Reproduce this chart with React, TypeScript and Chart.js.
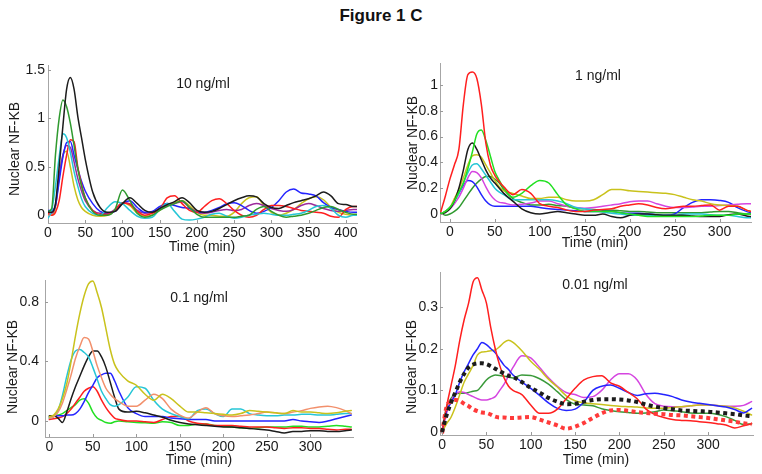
import React, { useEffect, useRef } from 'react';
import { Chart, registerables } from 'chart.js';
Chart.register(...registerables);

const FONT = "Arial, 'Liberation Sans', Helvetica, sans-serif";

// ---------- Panel 1 : 10 ng/ml ----------
const T1 = [0,5,10,15,20,25,30,35,40,45,50,60,70,80,90,100,110,120,130,140,150,160,170,180,190,200,210,220,230,240,250,260,270,280,290,300,310,320,330,340,350,360,370,380,390,400,410,415];
const P1_black = [0.03,0.03,0.12,0.5,0.92,1.3,1.42,1.3,1.02,0.8,0.58,0.24,0.08,0.03,0.04,0.12,0.18,0.12,0.05,0.03,0.07,0.11,0.14,0.18,0.13,0.05,0.03,0.04,0.07,0.11,0.15,0.18,0.2,0.19,0.12,0.08,0.07,0.1,0.13,0.15,0.17,0.2,0.24,0.2,0.12,0.11,0.09,0.09];
const P1_green = [0.04,0.07,0.62,1.0,1.19,1.12,0.95,0.72,0.48,0.3,0.18,0.04,0.0,0.0,0.06,0.26,0.15,0.02,-0.02,0.0,0.05,0.09,0.12,0.15,0.08,0.01,-0.02,-0.02,-0.02,-0.02,-0.02,-0.01,0.0,0.06,0.09,0.04,0.0,-0.02,-0.01,0.0,0.02,0.05,0.08,0.09,0.06,0.03,0.01,0.01];
const P1_cyan = [-0.03,0.05,0.3,0.6,0.84,0.8,0.65,0.45,0.3,0.17,0.09,0.02,0.0,0.08,0.14,0.12,0.05,-0.01,-0.03,-0.02,0.06,0.12,0.04,-0.04,-0.05,-0.04,-0.02,0.01,0.02,-0.01,-0.03,-0.02,0.0,0.01,0.02,0.01,0.0,0.0,0.01,0.02,0.05,0.09,0.1,0.07,0.0,-0.02,0.0,0.0];
const P1_red = [0.02,0.0,0.03,0.15,0.4,0.62,0.78,0.76,0.5,0.32,0.18,0.05,0.01,0.01,0.05,0.13,0.11,0.04,0.0,0.02,0.06,0.18,0.2,0.12,0.05,0.03,0.09,0.15,0.17,0.12,0.05,0.0,-0.02,0.0,0.06,0.1,0.1,0.09,0.07,0.05,0.04,0.03,0.02,-0.01,-0.02,0.06,0.09,0.09];
const P1_blue = [0.05,0.05,0.1,0.35,0.6,0.75,0.76,0.62,0.48,0.35,0.25,0.12,0.04,0.02,0.04,0.12,0.15,0.08,0.03,0.04,0.09,0.12,0.1,0.08,0.07,0.03,0.03,0.05,0.08,0.12,0.13,0.1,0.05,0.02,0.04,0.08,0.15,0.24,0.27,0.23,0.22,0.2,0.13,0.08,0.06,0.04,0.03,0.03];
const P1_purple = [0.03,0.02,0.1,0.4,0.62,0.72,0.7,0.55,0.38,0.25,0.15,0.05,0.02,0.02,0.06,0.13,0.12,0.05,0.02,0.03,0.07,0.1,0.12,0.14,0.08,0.03,0.02,0.03,0.05,0.06,0.05,0.06,0.1,0.12,0.1,0.07,0.05,0.04,0.06,0.1,0.12,0.1,0.07,0.05,0.04,0.05,0.06,0.06];
const P1_yellow = [0.02,0.0,0.08,0.4,0.62,0.66,0.5,0.3,0.16,0.08,0.04,0.0,-0.01,0.0,0.05,0.13,0.1,0.02,-0.01,0.0,0.05,0.1,0.13,0.15,0.1,0.03,0.0,0.0,-0.01,-0.01,0.03,0.12,0.18,0.19,0.1,0.03,0.0,0.02,0.06,0.12,0.17,0.19,0.16,0.08,0.03,0.01,0.0,0.0];
const X1_TICKS = [0,50,100,150,200,250,300,350,400];
const Y1_TICKS = [0,0.5,1,1.5];

// ---------- Panel 2 : 1 ng/ml ----------
const T2 = [-10,-5,0,5,10,15,20,25,30,35,40,45,50,55,60,70,80,90,100,110,120,130,140,150,160,170,180,190,200,210,220,230,240,250,260,270,280,290,300,310,320,330,335];
const P2_red = [0.02,0.14,0.27,0.38,0.5,0.85,1.08,1.1,1.05,0.85,0.55,0.38,0.3,0.25,0.21,0.15,0.19,0.16,0.08,0.06,0.05,0.03,0.02,0.02,0.03,0.035,0.04,0.06,0.07,0.08,0.07,0.05,0.04,0.05,0.06,0.06,0.065,0.07,0.03,0.06,0.06,0.03,0.02];
const P2_green = [0.0,0.02,0.05,0.1,0.17,0.24,0.35,0.48,0.62,0.65,0.57,0.45,0.33,0.26,0.2,0.13,0.16,0.22,0.26,0.24,0.15,0.07,0.04,0.02,0.02,0.02,0.02,0.01,0.0,-0.01,-0.02,-0.02,-0.02,-0.02,-0.02,-0.02,-0.015,-0.01,-0.01,-0.01,0.0,0.0,0.0];
const P2_black = [0.0,0.01,0.04,0.1,0.2,0.34,0.5,0.55,0.5,0.42,0.34,0.28,0.24,0.2,0.16,0.1,0.04,0.01,0.0,0.01,0.02,0.01,0.0,-0.01,-0.01,0.0,-0.02,-0.03,-0.01,0.0,0.0,-0.005,-0.01,-0.01,-0.01,-0.015,-0.02,-0.02,-0.02,-0.005,0.0,-0.015,-0.02];
const P2_yellow = [0.0,0.02,0.05,0.12,0.19,0.28,0.38,0.45,0.46,0.44,0.38,0.32,0.26,0.21,0.18,0.16,0.14,0.12,0.12,0.13,0.13,0.11,0.1,0.1,0.11,0.15,0.19,0.19,0.18,0.175,0.17,0.165,0.16,0.15,0.13,0.11,0.1,0.08,0.07,0.065,0.06,0.03,0.02];
const P2_cyan = [0.0,0.02,0.05,0.1,0.16,0.24,0.32,0.38,0.39,0.35,0.3,0.25,0.2,0.17,0.15,0.11,0.11,0.11,0.11,0.11,0.1,0.08,0.05,0.04,0.03,0.015,0.005,0.0,-0.01,-0.01,-0.01,-0.01,-0.01,-0.01,0.0,0.0,0.0,-0.005,-0.01,-0.01,-0.02,-0.03,-0.03];
const P2_magenta = [0.0,0.02,0.04,0.08,0.13,0.2,0.28,0.33,0.32,0.28,0.21,0.15,0.11,0.09,0.085,0.07,0.075,0.085,0.1,0.1,0.08,0.06,0.05,0.045,0.05,0.06,0.07,0.08,0.095,0.1,0.1,0.08,0.06,0.05,0.05,0.055,0.06,0.06,0.065,0.07,0.075,0.08,0.08];
const P2_blue = [0.0,0.02,0.05,0.1,0.16,0.22,0.26,0.25,0.21,0.15,0.1,0.07,0.06,0.06,0.06,0.06,0.06,0.06,0.05,0.04,0.035,0.03,0.025,0.02,0.02,0.02,0.02,0.01,0.005,0.005,0.0,-0.005,-0.01,0.0,0.05,0.09,0.11,0.11,0.105,0.09,0.05,0.02,0.01];
const P2_dkgreen = [0.01,-0.01,0.0,0.02,0.05,0.1,0.15,0.2,0.24,0.27,0.29,0.29,0.27,0.24,0.19,0.12,0.09,0.07,0.07,0.075,0.065,0.06,0.045,0.04,0.035,0.03,0.03,0.025,0.02,0.02,0.015,0.01,0.01,0.01,0.01,0.01,0.01,0.015,0.02,0.02,0.01,0.0,0.0];
const X2_TICKS = [0,50,100,150,200,250,300];
const Y2_TICKS = [0,0.2,0.4,0.6,0.8,1];

// ---------- Panel 3 : 0.1 ng/ml ----------
const T3 = [0,5,10,15,20,25,30,35,40,45,50,55,60,65,70,75,80,90,100,110,120,130,140,150,160,170,180,190,200,210,220,230,240,250,260,270,280,290,300,310,320,330,340,347];
const P3_yellow = [0.03,0.04,0.08,0.15,0.25,0.4,0.57,0.72,0.84,0.92,0.94,0.86,0.76,0.62,0.48,0.38,0.33,0.27,0.24,0.18,0.14,0.18,0.15,0.1,0.06,0.06,0.055,0.05,0.045,0.04,0.05,0.07,0.065,0.06,0.055,0.05,0.07,0.06,0.06,0.055,0.05,0.055,0.065,0.07];
const P3_salmon = [0.02,0.03,0.06,0.12,0.21,0.31,0.42,0.5,0.56,0.55,0.47,0.37,0.29,0.22,0.18,0.15,0.13,0.1,0.1,0.14,0.18,0.15,0.08,0.04,0.02,0.06,0.09,0.05,0.035,0.03,0.035,0.04,0.05,0.06,0.055,0.05,0.06,0.07,0.085,0.095,0.1,0.09,0.07,0.05];
const P3_cyan = [0.02,0.03,0.07,0.17,0.3,0.41,0.47,0.48,0.46,0.43,0.36,0.28,0.2,0.15,0.11,0.1,0.11,0.16,0.23,0.22,0.14,0.08,0.05,0.03,0.015,0.07,0.08,0.05,0.03,0.08,0.08,0.05,0.04,0.035,0.035,0.04,0.04,0.045,0.045,0.04,0.04,0.045,0.05,0.05];
const P3_black = [0.035,0.035,0.02,-0.01,0.06,0.15,0.23,0.3,0.37,0.43,0.47,0.47,0.43,0.36,0.26,0.16,0.08,0.06,0.065,0.055,0.04,0.025,0.005,-0.01,-0.02,-0.025,-0.03,-0.035,-0.04,-0.04,-0.045,-0.05,-0.055,-0.06,-0.07,-0.08,-0.07,-0.07,-0.065,-0.065,-0.07,-0.07,-0.065,-0.06];
const P3_blue = [0.03,0.035,0.035,0.035,0.04,0.04,0.05,0.08,0.13,0.19,0.24,0.29,0.31,0.32,0.32,0.27,0.2,0.09,0.05,0.03,0.03,0.03,0.02,0.015,0.01,0.01,0.01,0.0,0.0,0.0,0.0,0.0,0.0,0.0,0.0,0.0,0.01,0.0,-0.005,-0.01,0.0,0.015,0.03,0.04];
const P3_red = [0.01,0.015,0.02,0.03,0.05,0.08,0.12,0.16,0.2,0.22,0.23,0.2,0.14,0.09,0.05,0.02,0.01,0.0,0.0,-0.005,-0.01,0.01,0.03,0.03,0.0,-0.015,-0.02,-0.03,-0.03,-0.03,-0.035,-0.04,-0.04,-0.04,-0.045,-0.05,-0.045,-0.045,-0.05,-0.05,-0.055,-0.06,-0.055,-0.055];
const P3_green = [0.02,0.03,0.04,0.05,0.07,0.09,0.11,0.14,0.15,0.12,0.06,0.02,0.005,-0.01,-0.015,-0.005,0.0,-0.005,-0.01,-0.012,-0.015,-0.005,-0.01,-0.03,-0.03,-0.02,-0.02,-0.03,-0.035,-0.04,-0.045,-0.05,-0.045,-0.04,-0.04,-0.04,-0.035,-0.035,-0.04,-0.04,-0.035,-0.03,-0.035,-0.04];
const X3_TICKS = [0,50,100,150,200,250,300];
const Y3_TICKS = [0,0.4,0.8];

// ---------- Panel 4 : 0.01 ng/ml ----------
const T4 = [0,5,10,15,20,25,30,35,40,45,50,55,60,65,70,75,80,90,100,110,120,130,140,150,160,170,180,190,200,210,220,230,240,250,260,270,280,290,300,310,320,330,340,349];
const P4_red = [0.0,0.06,0.11,0.16,0.22,0.27,0.31,0.36,0.37,0.34,0.31,0.25,0.2,0.16,0.13,0.11,0.1,0.09,0.065,0.045,0.045,0.055,0.08,0.105,0.125,0.133,0.135,0.118,0.11,0.095,0.08,0.055,0.042,0.035,0.03,0.028,0.027,0.025,0.023,0.02,0.017,0.01,0.015,0.02];
const P4_blue = [0.0,0.05,0.07,0.09,0.12,0.145,0.165,0.185,0.2,0.215,0.21,0.2,0.19,0.175,0.16,0.15,0.137,0.12,0.105,0.088,0.07,0.057,0.052,0.055,0.072,0.1,0.11,0.113,0.105,0.095,0.088,0.092,0.093,0.09,0.085,0.077,0.072,0.069,0.066,0.063,0.06,0.054,0.046,0.057];
const P4_yellow = [0.0,0.02,0.035,0.06,0.09,0.12,0.14,0.16,0.185,0.192,0.193,0.195,0.197,0.205,0.215,0.22,0.215,0.195,0.17,0.15,0.127,0.108,0.087,0.075,0.07,0.068,0.066,0.064,0.062,0.061,0.06,0.058,0.057,0.057,0.059,0.061,0.063,0.065,0.065,0.064,0.062,0.058,0.05,0.041];
const P4_magenta = [0.0,0.045,0.075,0.09,0.097,0.095,0.09,0.085,0.08,0.077,0.077,0.08,0.085,0.1,0.115,0.135,0.155,0.183,0.178,0.155,0.13,0.11,0.095,0.09,0.083,0.085,0.1,0.125,0.14,0.14,0.125,0.09,0.068,0.062,0.061,0.061,0.063,0.065,0.065,0.064,0.062,0.062,0.064,0.073];
const P4_green = [0.0,0.06,0.08,0.092,0.093,0.093,0.095,0.098,0.1,0.112,0.125,0.133,0.137,0.136,0.134,0.132,0.13,0.137,0.136,0.128,0.115,0.097,0.078,0.067,0.065,0.063,0.056,0.052,0.049,0.047,0.045,0.046,0.049,0.053,0.051,0.049,0.046,0.045,0.045,0.043,0.037,0.028,0.018,0.02];
const P4_meanBlack = [0.0,0.04,0.07,0.095,0.12,0.14,0.155,0.162,0.165,0.165,0.163,0.158,0.152,0.146,0.14,0.135,0.132,0.12,0.106,0.095,0.082,0.073,0.067,0.068,0.073,0.077,0.079,0.079,0.078,0.076,0.072,0.066,0.061,0.058,0.055,0.052,0.051,0.05,0.049,0.047,0.045,0.043,0.04,0.038];
const P4_meanRed = [-0.003,0.06,0.073,0.077,0.075,0.068,0.062,0.055,0.05,0.047,0.046,0.042,0.037,0.035,0.035,0.034,0.034,0.035,0.036,0.03,0.023,0.016,0.008,0.013,0.022,0.034,0.045,0.052,0.053,0.051,0.048,0.046,0.044,0.043,0.041,0.04,0.038,0.036,0.034,0.031,0.028,0.025,0.021,0.019];
const X4_TICKS = [0,50,100,150,200,250,300];
const Y4_TICKS = [0,0.1,0.2,0.3];

// ---------- colours ----------
const C = {
  red: '#ff1f1f', green: '#22e022', dkgreen: '#2f9a2f', cyan: '#26c6d6', blue: '#2424ff',
  magenta: '#d545e0', purple: '#9a2a9a', yellow: '#c9c21c', black: '#1c1c1c', salmon: '#f2906c',
};

type S = { values: number[]; color: string; width?: number; dash?: number[] };
type Cfg = {
  times: number[]; series: S[]; xTicks: number[]; yTicks: number[];
  xMin: number; xMax: number; yMin: number; yMax: number;
  box: number[]; area: number[]; yTickPad: number;
  conc: string; concPos: number[]; yTitlePos: number[]; xTitlePos: number[];
};

const PANELS: Cfg[] = [
  {
    times: T1, xTicks: X1_TICKS, yTicks: Y1_TICKS, xMin: 0, xMax: 415, yMin: -0.08, yMax: 1.55,
    series: [
      { values: P1_black, color: C.black }, { values: P1_green, color: C.dkgreen },
      { values: P1_cyan, color: C.cyan }, { values: P1_red, color: C.red },
      { values: P1_blue, color: C.blue }, { values: P1_purple, color: C.purple },
      { values: P1_yellow, color: C.yellow },
    ],
    box: [0, 28, 381, 227], area: [48, 65, 357, 223], yTickPad: 3,
    conc: '10 ng/ml', concPos: [203, 84], yTitlePos: [15, 149], xTitlePos: [202, 247],
  },
  {
    times: T2, xTicks: X2_TICKS, yTicks: Y2_TICKS, xMin: -11, xMax: 335, yMin: -0.062, yMax: 1.17,
    series: [
      { values: P2_red, color: C.red }, { values: P2_green, color: C.green },
      { values: P2_black, color: C.black }, { values: P2_yellow, color: C.yellow },
      { values: P2_cyan, color: C.cyan }, { values: P2_magenta, color: C.magenta },
      { values: P2_blue, color: C.blue }, { values: P2_dkgreen, color: C.dkgreen },
    ],
    box: [381, 28, 381, 227], area: [440, 63, 751, 222], yTickPad: 2,
    conc: '1 ng/ml', concPos: [598, 76], yTitlePos: [413, 143], xTitlePos: [595, 243],
  },
  {
    times: T3, xTicks: X3_TICKS, yTicks: Y3_TICKS, xMin: -5, xMax: 349, yMin: -0.107, yMax: 0.946,
    series: [
      { values: P3_yellow, color: C.yellow }, { values: P3_salmon, color: C.salmon },
      { values: P3_cyan, color: C.cyan }, { values: P3_black, color: C.black },
      { values: P3_blue, color: C.blue }, { values: P3_red, color: C.red },
      { values: P3_green, color: C.green },
    ],
    box: [0, 255, 381, 219], area: [45, 280, 353, 437], yTickPad: 6,
    conc: '0.1 ng/ml', concPos: [199, 298], yTitlePos: [13, 367], xTitlePos: [199, 460],
  },
  {
    times: T4, xTicks: X4_TICKS, yTicks: Y4_TICKS, xMin: -2.3, xMax: 350.6, yMin: -0.007, yMax: 0.384,
    series: [
      { values: P4_meanBlack, color: C.black, width: 4, dash: [4, 3.5] },
      { values: P4_meanRed, color: '#ff3a3a', width: 4, dash: [4, 3.5] },
      { values: P4_red, color: C.red }, { values: P4_blue, color: C.blue },
      { values: P4_yellow, color: C.yellow }, { values: P4_magenta, color: C.magenta },
      { values: P4_green, color: '#3a9a3a' },
    ],
    box: [381, 255, 381, 219], area: [440, 272, 753, 435], yTickPad: 2,
    conc: '0.01 ng/ml', concPos: [595, 285], yTitlePos: [412, 367], xTitlePos: [596, 460],
  },
];

function Panel({ cfg }: { cfg: Cfg }) {
  const ref = useRef<HTMLCanvasElement>(null);
  const [cx, cy, w, h] = cfg.box;
  useEffect(() => {
    const [l, t, r, b] = cfg.area;
    const decor = {
      id: 'decor',
      afterDraw(chart: any) {
        const ctx = chart.ctx as CanvasRenderingContext2D;
        const ca = chart.chartArea;
        const xs = chart.scales.x;
        const ys = chart.scales.y;
        ctx.save();
        ctx.strokeStyle = '#9a9a9a';
        ctx.lineWidth = 1;
        ctx.beginPath();
        cfg.xTicks.forEach((v) => {
          const px = Math.round(xs.getPixelForValue(v)) + 0.5;
          ctx.moveTo(px, ca.bottom);
          ctx.lineTo(px, ca.bottom - 3);
        });
        cfg.yTicks.forEach((v) => {
          const py = Math.round(ys.getPixelForValue(v)) + 0.5;
          ctx.moveTo(ca.left, py);
          ctx.lineTo(ca.left + 3, py);
        });
        ctx.stroke();
        ctx.fillStyle = '#1a1a1a';
        ctx.font = `14px ${FONT}`;
        ctx.textAlign = 'center';
        ctx.textBaseline = 'middle';
        ctx.fillText(cfg.conc, cfg.concPos[0] - cx, cfg.concPos[1] - cy);
        ctx.fillText('Time (min)', cfg.xTitlePos[0] - cx, cfg.xTitlePos[1] - cy);
        ctx.translate(cfg.yTitlePos[0] - cx, cfg.yTitlePos[1] - cy);
        ctx.rotate(-Math.PI / 2);
        ctx.fillText('Nuclear NF-KB', 0, 0);
        ctx.restore();
      },
    };
    const chart = new Chart(ref.current as HTMLCanvasElement, {
      type: 'line',
      data: {
        datasets: cfg.series.map((s) => ({
          data: cfg.times.map((x, i) => ({ x, y: s.values[i] })),
          borderColor: s.color,
          borderWidth: s.width ?? 1.5,
          borderDash: s.dash ?? [],
          borderCapStyle: s.dash ? 'butt' : 'round',
          pointRadius: 0,
          fill: false,
          cubicInterpolationMode: 'monotone',
        })) as any,
      },
      options: {
        responsive: false,
        animation: false,
        devicePixelRatio: 1,
        events: [],
        layout: { autoPadding: false, padding: { left: 0, top: t - cy, right: cx + w - r, bottom: 0 } },
        plugins: { legend: { display: false }, tooltip: { enabled: false }, title: { display: false } },
        scales: {
          x: {
            type: 'linear', min: cfg.xMin, max: cfg.xMax,
            afterFit: (s: any) => { s.height = cy + h - b; },
            afterBuildTicks: (s: any) => { s.ticks = cfg.xTicks.map((v) => ({ value: v })); },
            grid: { display: true, drawOnChartArea: false, drawTicks: false },
            border: { display: true, color: '#a6a6a6', width: 1 },
            ticks: { font: { family: FONT, size: 14 }, color: '#1a1a1a', padding: 2, maxRotation: 0, autoSkip: false, callback: (v: any) => String(v) },
          },
          y: {
            type: 'linear', min: cfg.yMin, max: cfg.yMax,
            afterFit: (s: any) => { s.width = l - cx; },
            afterBuildTicks: (s: any) => { s.ticks = cfg.yTicks.map((v) => ({ value: v })); },
            grid: { display: true, drawOnChartArea: false, drawTicks: false },
            border: { display: true, color: '#a6a6a6', width: 1 },
            ticks: { font: { family: FONT, size: 14 }, color: '#1a1a1a', padding: cfg.yTickPad, autoSkip: false, callback: (v: any) => String(v) },
          },
        },
      } as any,
      plugins: [decor],
    });
    return () => chart.destroy();
  }, []);
  return (
    <canvas
      ref={ref}
      width={w}
      height={h}
      style={{ position: 'absolute', left: cx, top: cy, width: w, height: h }}
    />
  );
}

export default function App() {
  return (
    <div style={{ position: 'absolute', left: 0, top: 0, width: 762, height: 474, background: '#fff', overflow: 'hidden' }}>
      <div style={{ position: 'absolute', left: 0, top: 6, width: 762, textAlign: 'center', fontFamily: FONT, fontWeight: 'bold', fontSize: 17, lineHeight: '20px', color: '#111' }}>
        Figure 1 C
      </div>
      {PANELS.map((p, i) => (
        <Panel key={i} cfg={p} />
      ))}
    </div>
  );
}
